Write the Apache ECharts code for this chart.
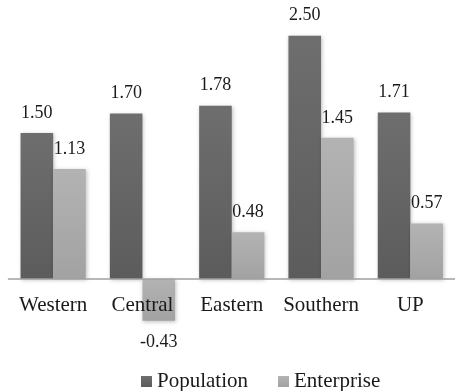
<!DOCTYPE html>
<html>
<head>
<meta charset="utf-8">
<style>
  html, body { margin: 0; padding: 0; background: #fff; }
  #chart { width: 455px; height: 391px; }
</style>
<script src="https://cdn.jsdelivr.net/npm/echarts@6/dist/echarts.min.js"></script>
</head>
<body>
<div id="chart"></div>
<script>
// Regions and the two growth measures per region
const regions = ['Western', 'Central', 'Eastern', 'Southern', 'UP'];
const population = [1.50, 1.70, 1.78, 2.50, 1.71];
const enterprise = [1.13, -0.43, 0.48, 1.45, 0.57];
const seriesNames = ['Population', 'Enterprise'];

const serif = '"Liberation Serif", "Times New Roman", serif';

// Negative values get their label underneath the bar
function withLabelSide(values) {
  return values.map(v => v < 0 ? { value: v, label: { position: 'bottom', distance: 12 } } : v);
}

function barSeries(name, data, top, bottom) {
  return {
    name: name,
    type: 'bar',
    z: 2,
    data: withLabelSide(data),
    barGap: '0%',
    barCategoryGap: '27%',
    itemStyle: {
      color: new echarts.graphic.LinearGradient(0, 0, 0, 1, [
        { offset: 0, color: top },
        { offset: 1, color: bottom }
      ]),
      shadowBlur: 4,
      shadowColor: 'rgba(0,0,0,0.25)',
      shadowOffsetX: 1,
      shadowOffsetY: 1
    },
    label: {
      show: true,
      position: 'top',
      distance: 11,
      color: '#1a1a1a',
      fontFamily: serif,
      fontSize: 18,
      formatter: p => p.value.toFixed(2)
    }
  };
}

const chart = echarts.init(document.getElementById('chart'), null, { renderer: 'canvas' });
chart.setOption({
  animation: false,
  backgroundColor: '#ffffff',
  grid: { left: 8.5, top: 35.7, width: 455, height: 291.9, containLabel: false },
  legend: {
    left: 141,
    top: 371,
    padding: 0,
    itemWidth: 11,
    itemHeight: 11,
    itemGap: 30,
    icon: 'rect',
    textStyle: { fontFamily: serif, fontSize: 21, color: '#1a1a1a' },
    data: seriesNames
  },
  xAxis: {
    type: 'category',
    z: 5,
    data: regions,
    axisLine: { onZero: true, lineStyle: { color: '#a0a0a0', width: 1.5 } },
    axisTick: { show: false },
    axisLabel: { interval: 0, fontFamily: serif, fontSize: 21, color: '#1a1a1a', margin: -33 }
  },
  yAxis: {
    type: 'value',
    min: -0.5,
    max: 2.5,
    show: false,
    splitLine: { show: false }
  },
  series: [
    barSeries(seriesNames[0], population, '#6e6e6e', '#5c5c5c'),
    barSeries(seriesNames[1], enterprise, '#b3b3b3', '#a2a2a2')
  ]
});
</script>
</body>
</html>
